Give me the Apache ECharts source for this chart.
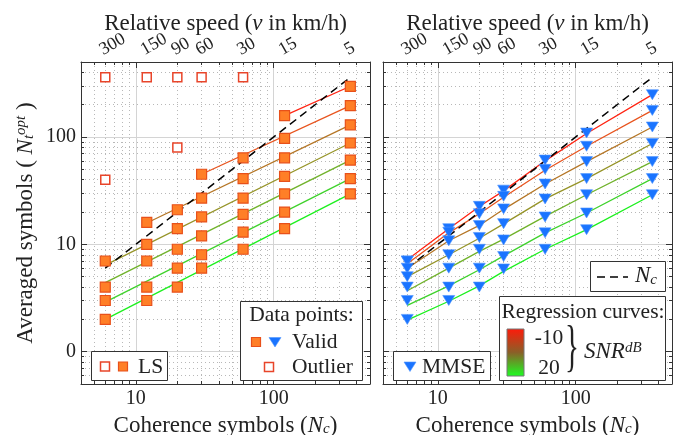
<!DOCTYPE html>
<html><head><meta charset="utf-8">
<script src="https://cdn.jsdelivr.net/npm/echarts@6/dist/echarts.min.js"></script>
<style>html,body{margin:0;padding:0;background:#fff}#c{width:682px;height:435px}</style>
</head><body><div id="c"></div>
<script>
// ---------- data ----------
const ncValues = [6, 12, 20, 30, 60, 120, 360];           // coherence symbols columns
const speedLabels = ['300', '150', '90', '60', '30', '15', '5']; // relative speed labels at those columns
const snrLevels = [-10, -5, 0, 5, 10, 15, 20];

const xMinorTicks = [4, 5, 6, 7, 8, 9, 20, 30, 40, 50, 60, 70, 80, 90, 200, 300, 400, 500];
const xMajorTicks = [10, 100];
const xMajorLabels = ['10', '100'];
const yMinorTicks = [0.5, 0.6, 0.7, 0.8, 0.9, 2, 3, 4, 5, 6, 7, 8, 9, 20, 30, 40, 50, 60, 70, 80, 90, 200, 300, 400, 500];
const yMajorTicks = [1, 10, 100];
const yMajorLabels = ['0', '10', '100'];

// LS valid data points per SNR (null = outlier at that column)
const ls_m10 = [null, null, null, null, null, 158, 297];
const ls_m5  = [null, null, null, 45, 64, 97, 196];
const ls_0   = [null, 16, 21, 27, 41, 64, 130];
const ls_5   = [7, 10, 14, 18, 27, 43, 88];
const ls_10  = [4, 7, 9, 12, 19, 29.5, 61];
const ls_15  = [3, 4, 6, 8, 13, 20, 41];
const ls_20  = [2, 3, 4, 6, 9, 14, 29.5];
// LS outliers
const lsOutlierNc  = [6, 12, 20, 30, 60, 6, 20];
const lsOutlierVal = [360, 360, 360, 360, 360, 40, 80];
// LS regression curves (start / end)
const lsFitStartNc  = [120, 30, 12, 6, 6, 6, 6];
const lsFitStartVal = [158, 45, 15.8, 6.4, 4.4, 2.9, 2.0];
const lsFitEndNc    = [360, 360, 360, 360, 360, 360, 360];
const lsFitEndVal   = [297, 196, 130, 88, 61, 41, 29.5];

// MMSE data points per SNR
const mm_m10 = [7, 14, 22.6, 32, 61, 109, 248];
const mm_m5  = [7, 13, 19.3, 28, 50, 82, 177];
const mm_0   = [6, 10.8, 15, 21.4, 36.5, 59, 124];
const mm_5   = [5, 8, 11.6, 15.6, 26.5, 41, 87];
const mm_10  = [4, 6, 9, 11, 18, 29, 59];
const mm_15  = [3, 4, 6, 7.7, 12.8, 19.6, 41];
const mm_20  = [2, 3, 4, 5.9, 9, 13.7, 29];
// MMSE regression curves
const mmFit_m10 = [7.2, 14, 22.5, 31.5, 60, 108, 248];
const mmFit_m5  = [6.6, 12.8, 19.3, 27.5, 49, 82, 177];
const mmFit_0   = [6.0, 10.8, 15, 21.2, 36.5, 59, 124];
const mmFit_5   = [5.0, 8.0, 11.4, 15.5, 26.5, 41, 87];
const mmFit_10  = [3.7, 6.0, 8.6, 11.2, 18.2, 29, 59];
const mmFit_15  = [2.7, 4.1, 5.8, 7.8, 12.8, 19.6, 41];
const mmFit_20  = [1.97, 2.95, 4.1, 5.6, 9.0, 13.7, 29];

// N_t = N_c reference line
const ncRefX = [6, 360];
const ncRefY = [6, 360];

// ---------- styles ----------
const snrColors = ['#ff2412', '#e8541e', '#b57626', '#969428', '#70b22a', '#3fd22c', '#1cf01e'];
const serif = '"Liberation Serif","DejaVu Serif",serif';
const axisColor = '#333';
const sqFill = '#ff7f27', sqBorder = '#e8501a', outBorder = '#e8452a', triColor = '#1a74ff';

const lsSets = [ls_m10, ls_m5, ls_0, ls_5, ls_10, ls_15, ls_20];
const mmSets = [mm_m10, mm_m5, mm_0, mm_5, mm_10, mm_15, mm_20];
const mmFits = [mmFit_m10, mmFit_m5, mmFit_0, mmFit_5, mmFit_10, mmFit_15, mmFit_20];

function lookup(vals, labels, v) {
  for (let i = 0; i < vals.length; i++) if (Math.abs(vals[i] - v) / vals[i] < 1e-3) return labels[i];
  return '';
}

const NF = 23, SF = 15;
const nameRich = {
  i: {fontFamily: serif, fontStyle: 'italic', fontSize: NF, color: '#222'},
  sub: {fontFamily: serif, fontStyle: 'italic', fontSize: SF, color: '#222', verticalAlign: 'bottom', lineHeight: 11},
  sup: {fontFamily: serif, fontStyle: 'italic', fontSize: SF, color: '#222', verticalAlign: 'top', lineHeight: 11}
};
const nameStyle = {fontFamily: serif, fontSize: NF, color: '#222', rich: nameRich};

function xAxesFor(g) {
  const base = {type: 'log', logBase: 10, gridIndex: g, min: 4, max: 500};
  return [
    Object.assign({}, base, {position: 'bottom',
      axisLine: {show: true, onZero: false, lineStyle: {color: axisColor, width: 1}},
      axisTick: {show: true, inside: true, length: 3, customValues: xMinorTicks, lineStyle: {color: axisColor}},
      axisLabel: {show: false},
      splitLine: {show: true, lineStyle: {type: [1, 3], color: '#b8b8b8', width: 1}}}),
    Object.assign({}, base, {position: 'bottom',
      name: 'Coherence symbols ({i|N}{sub|c})', nameLocation: 'middle', nameGap: 30, nameMoveOverlap: false, nameTextStyle: nameStyle,
      axisLine: {show: false, onZero: false},
      axisTick: {show: true, inside: true, length: 6, customValues: xMajorTicks, lineStyle: {color: axisColor}},
      axisLabel: {show: true, customValues: xMajorTicks, margin: 5, fontFamily: serif, fontSize: 20, color: '#222',
        formatter: v => lookup(xMajorTicks, xMajorLabels, v)},
      splitLine: {show: true, lineStyle: {color: '#d4d4d4', width: 1}}}),
    Object.assign({}, base, {position: 'top',
      axisLine: {show: true, onZero: false, lineStyle: {color: axisColor, width: 1}},
      axisTick: {show: true, inside: true, length: 3, customValues: xMinorTicks, lineStyle: {color: axisColor}},
      axisLabel: {show: false}, splitLine: {show: false}}),
    Object.assign({}, base, {position: 'top',
      name: 'Relative speed ({i|v} in km/h)', nameLocation: 'middle', nameGap: 27, nameMoveOverlap: false, nameTextStyle: nameStyle,
      axisLine: {show: false, onZero: false},
      axisTick: {show: true, inside: true, length: 6, customValues: xMajorTicks, lineStyle: {color: axisColor}},
      axisLabel: {show: true, customValues: ncValues, rotate: -30, margin: 3, align: 'left', verticalAlign: 'bottom',
        fontFamily: serif, fontSize: 18, color: '#222',
        formatter: v => lookup(ncValues, speedLabels, v)},
      splitLine: {show: false}})
  ];
}
function yAxesFor(g, withLabels) {
  const base = {type: 'log', logBase: 10, gridIndex: g, min: 0.5, max: 500};
  return [
    Object.assign({}, base, {position: 'left',
      axisLine: {show: true, onZero: false, lineStyle: {color: axisColor, width: 1}},
      axisTick: {show: true, inside: true, length: 3, customValues: yMinorTicks, lineStyle: {color: axisColor}},
      axisLabel: {show: false},
      splitLine: {show: true, lineStyle: {type: [1, 3], color: '#b8b8b8', width: 1}}}),
    Object.assign({}, base, {position: 'left',
      name: withLabels ? 'Averaged symbols ( {i|N}{sub|t}{sup|opt} )' : '', nameLocation: 'middle', nameGap: 44, nameMoveOverlap: false, nameTextStyle: nameStyle,
      axisLine: {show: false, onZero: false},
      axisTick: {show: true, inside: true, length: 6, customValues: yMajorTicks, lineStyle: {color: axisColor}},
      axisLabel: {show: withLabels, customValues: yMajorTicks, margin: 5, fontFamily: serif, fontSize: 20, color: '#222',
        formatter: v => lookup(yMajorTicks, yMajorLabels, v)},
      splitLine: {show: true, lineStyle: {color: '#d4d4d4', width: 1}}}),
    Object.assign({}, base, {position: 'right',
      axisLine: {show: true, onZero: false, lineStyle: {color: axisColor, width: 1}},
      axisTick: {show: true, inside: true, length: 3, customValues: yMinorTicks, lineStyle: {color: axisColor}},
      axisLabel: {show: false}, splitLine: {show: false}}),
    Object.assign({}, base, {position: 'right',
      axisLine: {show: false, onZero: false},
      axisTick: {show: true, inside: true, length: 6, customValues: yMajorTicks, lineStyle: {color: axisColor}},
      axisLabel: {show: false}, splitLine: {show: false}})
  ];
}

const series = [];
// ---- LS panel (grid 0, x axis 1, y axis 1)
for (let i = 0; i < snrLevels.length; i++) {
  series.push({type: 'line', name: 'LS fit ' + snrLevels[i] + ' dB', xAxisIndex: 1, yAxisIndex: 1, symbol: 'none', silent: true, z: 2,
    lineStyle: {color: snrColors[i], width: 1.3},
    data: [[lsFitStartNc[i], lsFitStartVal[i]], [lsFitEndNc[i], lsFitEndVal[i]]]});
}
series.push({type: 'line', name: 'Nc LS', xAxisIndex: 1, yAxisIndex: 1, symbol: 'none', silent: true, z: 3,
  lineStyle: {color: '#000', width: 1.5, type: [8, 5]},
  data: [[ncRefX[0], ncRefY[0]], [ncRefX[1], ncRefY[1]]]});
const lsValidPts = [];
lsSets.forEach(arr => arr.forEach((v, j) => { if (v !== null) lsValidPts.push([ncValues[j], v]); }));
series.push({type: 'scatter', name: 'LS valid', xAxisIndex: 1, yAxisIndex: 1, symbol: 'rect', symbolSize: 10, z: 5,
  itemStyle: {color: sqFill, borderColor: sqBorder, borderWidth: 1.2, opacity: 1}, data: lsValidPts});
series.push({type: 'scatter', name: 'LS outlier', xAxisIndex: 1, yAxisIndex: 1, symbol: 'rect', symbolSize: 9, z: 5,
  itemStyle: {color: '#fff', borderColor: outBorder, borderWidth: 1.5, opacity: 1},
  data: lsOutlierNc.map((n, k) => [n, lsOutlierVal[k]])});

// ---- MMSE panel (grid 1, x axis 5, y axis 5)
for (let i = 0; i < snrLevels.length; i++) {
  series.push({type: 'line', name: 'MMSE fit ' + snrLevels[i] + ' dB', xAxisIndex: 5, yAxisIndex: 5, symbol: 'none', silent: true, z: 2,
    lineStyle: {color: snrColors[i], width: 1.3},
    data: ncValues.map((n, j) => [n, mmFits[i][j]])});
}
series.push({type: 'line', name: 'Nc MMSE', xAxisIndex: 5, yAxisIndex: 5, symbol: 'none', silent: true, z: 3,
  lineStyle: {color: '#000', width: 1.5, type: [8, 5]},
  data: [[ncRefX[0], ncRefY[0]], [ncRefX[1], ncRefY[1]]]});
const mmPts = [];
mmSets.forEach(arr => arr.forEach((v, j) => mmPts.push([ncValues[j], v])));
series.push({type: 'scatter', name: 'MMSE', xAxisIndex: 5, yAxisIndex: 5, symbol: 'triangle', symbolRotate: 180, symbolSize: [12, 10], z: 5,
  itemStyle: {color: triColor, borderColor: '#4f95ff', borderWidth: 0.6, opacity: 1}, data: mmPts});

// ---------- legend graphics ----------
const LF = 21.5;
function box(x, y, w, h) {
  return {type: 'rect', z: 100, shape: {x: x, y: y, width: w, height: h}, style: {fill: '#fff', stroke: '#333', lineWidth: 1}};
}
function txt(x, y, text, size, align, rich) {
  return {type: 'text', z: 101, x: x, y: y, style: {text: text, fontFamily: serif, fontSize: size, fill: '#222',
    textAlign: align || 'left', textVerticalAlign: 'middle', rich: rich || {}}};
}
function sq(cx, cy, filled) {
  return {type: 'rect', z: 101, shape: {x: cx - 4.5, y: cy - 4.5, width: 9, height: 9},
    style: filled ? {fill: sqFill, stroke: sqBorder, lineWidth: 1.2} : {fill: '#fff', stroke: outBorder, lineWidth: 1.5}};
}
function tri(cx, cy) {
  return {type: 'polygon', z: 101, shape: {points: [[cx - 6, cy - 4.5], [cx + 6, cy - 4.5], [cx, cy + 5]]},
    style: {fill: triColor, stroke: '#4f95ff', lineWidth: 0.6}};
}
const gRich = {
  i: {fontFamily: serif, fontStyle: 'italic', fontSize: 23, fill: '#222'},
  sub: {fontFamily: serif, fontStyle: 'italic', fontSize: 15, fill: '#222', verticalAlign: 'bottom', lineHeight: 11},
  sup: {fontFamily: serif, fontStyle: 'italic', fontSize: 15, fill: '#222', verticalAlign: 'top', lineHeight: 11}
};
const graphic = [
  // LS legend
  box(91.5, 351.5, 76, 29), sq(105, 366.5, false), sq(123, 366.5, true), txt(138, 367, 'LS', LF),
  // Data points legend
  box(240.5, 301.5, 122, 79), txt(301.5, 315, 'Data points:', LF, 'center'),
  sq(256, 342, true), tri(275, 342), txt(292, 342, 'Valid', LF),
  sq(269, 367, false), txt(292, 367, 'Outlier', LF),
  // MMSE legend
  box(393.5, 351.5, 97, 29), tri(410, 366.5), txt(422, 367, 'MMSE', LF),
  // N_c legend
  box(590.5, 261.5, 75, 30),
  {type: 'line', z: 101, shape: {x1: 597, y1: 277, x2: 628, y2: 277}, style: {stroke: '#000', lineWidth: 1.5, lineDash: [8, 5]}},
  txt(635, 276, '{i|N}{sub|c}', 23, 'left', gRich),
  // Regression legend
  box(499.5, 296.5, 166, 84), txt(583, 312, 'Regression curves:', LF, 'center'),
  {type: 'rect', z: 101, shape: {x: 507, y: 329, width: 17, height: 47},
    style: {stroke: '#777', lineWidth: 1, fill: {type: 'linear', x: 0, y: 0, x2: 0, y2: 1, colorStops: [
      {offset: 0, color: '#ff1a0a'}, {offset: 0.5, color: '#8a6028'}, {offset: 1, color: '#1cff22'}]}}},
  txt(549, 338, '-10', LF, 'center'), txt(549, 368, '20', LF, 'center'),
  Object.assign(txt(572, 350, '}', 58, 'center'), {scaleX: 0.5}),
  txt(584, 352, '{i|SNR}{sup|dB}', 23, 'left', gRich)
];

const option = {
  backgroundColor: '#fff',
  animation: false,
  grid: [
    {left: 81, top: 62, width: 289, height: 322, outerBoundsMode: 'none', containLabel: false},
    {left: 383, top: 62, width: 289, height: 322, outerBoundsMode: 'none', containLabel: false}
  ],
  xAxis: xAxesFor(0).concat(xAxesFor(1)),
  yAxis: yAxesFor(0, true).concat(yAxesFor(1, false)),
  series: series,
  graphic: graphic
};
const chart = echarts.init(document.getElementById('c'), null, {renderer: 'canvas'});
chart.setOption(option);
</script>
</body></html>
